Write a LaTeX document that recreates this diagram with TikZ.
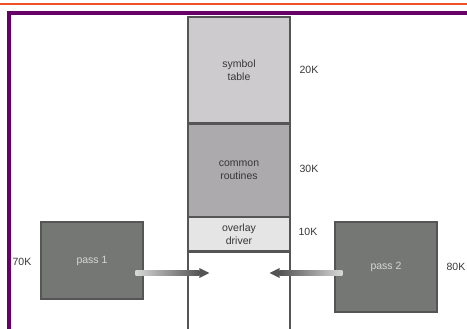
\documentclass[tikz,border=0pt]{standalone}
\usepackage{fontspec}
\setmainfont{Liberation Sans}
\usetikzlibrary{calc}
\definecolor{orangeline}{RGB}{238,82,40}
\definecolor{purpleframe}{RGB}{104,0,104}
\definecolor{symfill}{RGB}{206,203,207}
\definecolor{comfill}{RGB}{172,170,172}
\definecolor{ovlfill}{RGB}{229,229,229}
\definecolor{passfill}{RGB}{117,119,117}
\definecolor{edge}{RGB}{85,85,85}
\definecolor{labeltext}{RGB}{55,55,55}
\definecolor{arrowdark}{RGB}{85,85,85}
\definecolor{arrowlight}{RGB}{215,215,215}
\tikzset{
  memblock/.style={draw=edge, line width=1.4pt, minimum width=102pt, inner sep=0pt,
    align=center, font=\fontsize{10.5}{13}\selectfont, text=labeltext},
  passbox/.style={draw=edge, line width=1.2pt, fill=passfill, inner sep=0pt,
    font=\fontsize{10.5}{13}\selectfont, text=arrowlight},
  sizelabel/.style={font=\fontsize{10.5}{13}\selectfont, text=labeltext, inner sep=0pt},
}
\begin{document}
\begin{tikzpicture}[x=1pt,y=-1pt]
\useasboundingbox (0,0) rectangle (467,329);
\fill[white] (0,0) rectangle (467,329);
% top rule and frame
\draw[orangeline, line width=1.8pt] (0,4) -- (467,4);
\draw[purpleframe, line width=4pt] (9,340) -- (9,13) -- (480,13);
% memory column
\node[memblock, fill=symfill, minimum height=106pt] (sym) at (239,70) {symbol\\table};
\node[memblock, fill=comfill, minimum height=92pt, anchor=north] (com) at (sym.south) {common\\routines};
\node[memblock, fill=ovlfill, minimum height=33pt, anchor=north] (ovl) at (com.south) {overlay\\driver};
\node[memblock, fill=white, minimum height=77.5pt, anchor=north] (free) at (ovl.south) {};
% size labels
\node[sizelabel] (l20) at (309,70) {20K};
\node[sizelabel] (l30) at (309,169) {30K};
\node[sizelabel] (l10) at (308,232) {10K};
% passes
\node[passbox, minimum width=102pt, minimum height=77pt] (p1) at (92,260.5) {pass 1};
\node[passbox, minimum width=102pt, minimum height=90pt] (p2) at (386,267) {pass 2};
\node[sizelabel] (l70) at (22,262) {70K};
\node[sizelabel] (l80) at (456,267) {80K};
% arrows (shaded shaft + head)
\coordinate (a1s) at ($(p1.east)+(-8,12.5)$);
\coordinate (a1t) at ($(free.west)+(22,0)$);
\coordinate (a2s) at ($(p2.west)+(8,6)$);
\coordinate (a2t) at ($(free.east)+(-21,0)$);
\shade[left color=arrowlight, right color=arrowdark] ($(a1s)+(0,-2.5)$) rectangle ($(a1t|-a1s)+(-10,2.5)$);
\fill[arrowdark] ($(a1t|-a1s)+(-10,-5)$) -- ($(a1t|-a1s)$) -- ($(a1t|-a1s)+(-10,5)$) -- cycle;
\shade[right color=arrowlight, left color=arrowdark] ($(a2s)+(0,-2.5)$) rectangle ($(a2t|-a2s)+(10,2.5)$);
\fill[arrowdark] ($(a2t|-a2s)+(10,-5)$) -- ($(a2t|-a2s)$) -- ($(a2t|-a2s)+(10,5)$) -- cycle;
\end{tikzpicture}
\end{document}
